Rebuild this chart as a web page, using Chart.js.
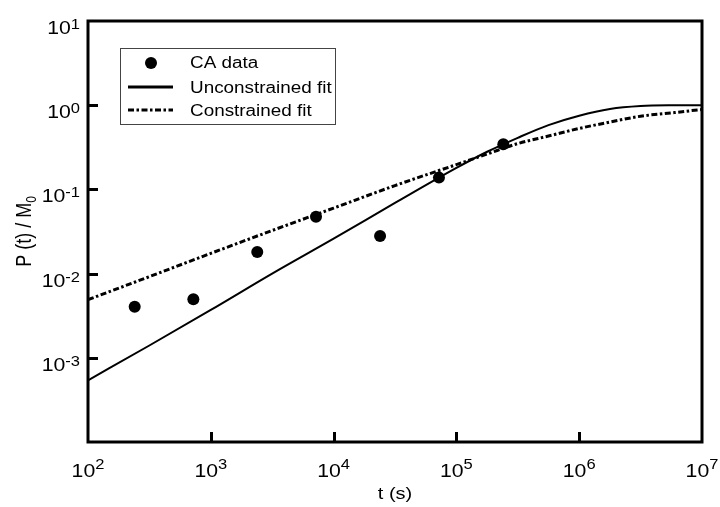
<!DOCTYPE html>
<html>
<head>
<meta charset="utf-8">
<script src="https://cdn.jsdelivr.net/npm/chart.js@4.4.1/dist/chart.umd.min.js"></script>
<style>
	html, body { margin: 0; padding: 0; background: #fff; }
	#wrap { width: 720px; height: 507px; }
</style>
</head>
<body>
<div id="wrap"><canvas id="chart" width="720" height="507"></canvas></div>
<script>
// data
const caTimes = [240, 721, 2390, 7190, 23900, 72100, 241000];
const caValues = [0.00405, 0.00495, 0.0181, 0.0474, 0.028, 0.138, 0.344];

const fitTimes = [1e2, 3.16e2, 1e3, 3.16e3, 1e4, 3.16e4, 1e5, 1.78e5, 3.16e5, 5.62e5, 1e6, 1.78e6, 3.16e6, 5.62e6, 1e7];
const unconstrainedFit = [5.4e-4, 1.4e-3, 3.7e-3, 0.0100, 0.026, 0.069, 0.18, 0.28, 0.41, 0.58, 0.75, 0.90, 0.976, 0.997, 1.0];
const constrainedFit = [4.9e-3, 9.2e-3, 0.0174, 0.0325, 0.060, 0.111, 0.197, 0.263, 0.35, 0.43, 0.53, 0.63, 0.74, 0.81, 0.89];

const xTickValues = [1e2, 1e3, 1e4, 1e5, 1e6, 1e7];
const xTickExps = ["2", "3", "4", "5", "6", "7"];
const yTickValues = [1e1, 1e0, 1e-1, 1e-2, 1e-3];
const yTickExps = ["1", "0", "-1", "-2", "-3"];

const legendLabels = ["CA data", "Unconstrained fit", "Constrained fit"];
const dashDot = [6, 2.5, 2.5, 2.5];

const FONT = '"Liberation Sans", Arial, sans-serif';
const SX = 1.18; // glyphs in the figure are a little wider than normal

const pts = (xs, ys) => xs.map((x, i) => ({ x: x, y: ys[i] }));

// draw text stretched horizontally
function stretchText(ctx, text, x, y, size, align) {
	ctx.save();
	ctx.font = `${size}px ${FONT}`;
	ctx.textBaseline = "alphabetic";
	ctx.textAlign = "left";
	let w = ctx.measureText(text).width * SX;
	let left = x;
	if (align === "right") left = x - w;
	if (align === "center") left = x - w / 2;
	ctx.translate(left, y);
	ctx.scale(SX, 1);
	ctx.fillText(text, 0, 0);
	ctx.restore();
	return w;
}

function textWidth(ctx, text, size) {
	ctx.save();
	ctx.font = `${size}px ${FONT}`;
	let w = ctx.measureText(text).width * SX;
	ctx.restore();
	return w;
}

const axesPlugin = {
	id: "axesPlugin",
	afterDatasetsDraw(chart) {
		const ctx = chart.ctx;
		const a = chart.chartArea;
		const xs = chart.scales.x;
		const ys = chart.scales.y;
		ctx.save();
		ctx.fillStyle = "#000";
		ctx.strokeStyle = "#000";

		// frame
		ctx.lineWidth = 3;
		ctx.strokeRect(a.left, a.top, a.right - a.left, a.bottom - a.top);

		// inward ticks
		ctx.beginPath();
		xTickValues.forEach((v) => {
			let px = Math.round(xs.getPixelForValue(v)) + 0.5;
			if (px <= a.left + 2 || px >= a.right - 2) return;
			ctx.moveTo(px, a.bottom);
			ctx.lineTo(px, a.bottom - 10);
		});
		yTickValues.forEach((v) => {
			let py = Math.round(ys.getPixelForValue(v)) + 0.5;
			if (py <= a.top + 2 || py >= a.bottom - 2) return;
			ctx.moveTo(a.left, py);
			ctx.lineTo(a.left + 10, py);
		});
		ctx.stroke();

		// x tick labels
		xTickValues.forEach((v, i) => {
			let px = xs.getPixelForValue(v);
			let wb = textWidth(ctx, "10", 18);
			let we = textWidth(ctx, xTickExps[i], 14);
			let left = px - (wb + we) / 2;
			stretchText(ctx, "10", left, a.bottom + 35, 18, "left");
			stretchText(ctx, xTickExps[i], left + wb, a.bottom + 27, 14, "left");
		});

		// y tick labels
		yTickValues.forEach((v, i) => {
			let py = ys.getPixelForValue(v);
			let right = a.left - 8;
			let we = stretchText(ctx, yTickExps[i], right, py + 8, 14, "right");
			stretchText(ctx, "10", right - we, py + 13, 18, "right");
		});

		// axis titles
		stretchText(ctx, "t (s)", (a.left + a.right) / 2, a.bottom + 57, 17, "center");

		ctx.save();
		ctx.font = `18px ${FONT}`;
		let main = "P (t) / M";
		let wm = ctx.measureText(main).width;
		ctx.font = `12px ${FONT}`;
		let ws = ctx.measureText("0").width;
		let cy = (a.top + a.bottom) / 2;
		ctx.translate(31, cy);
		ctx.scale(SX, 1);
		ctx.rotate(-Math.PI / 2);
		ctx.textAlign = "left";
		ctx.textBaseline = "alphabetic";
		ctx.font = `18px ${FONT}`;
		ctx.fillText(main, -(wm + ws) / 2, 0);
		ctx.font = `12px ${FONT}`;
		ctx.fillText("0", -(wm + ws) / 2 + wm, 4);
		ctx.restore();

		ctx.restore();
	},
	afterDraw(chart) {
		// boxed legend in the upper left of the plot
		const ctx = chart.ctx;
		ctx.save();
		ctx.strokeStyle = "#444";
		ctx.lineWidth = 1;
		ctx.strokeRect(120.5, 48.5, 215, 76);
		ctx.fillStyle = "#000";
		ctx.strokeStyle = "#000";

		ctx.beginPath();
		ctx.arc(151, 63, 6, 0, Math.PI * 2);
		ctx.fill();

		ctx.lineWidth = 3;
		ctx.beginPath();
		ctx.moveTo(128, 87);
		ctx.lineTo(173, 87);
		ctx.stroke();

		ctx.setLineDash(dashDot);
		ctx.beginPath();
		ctx.moveTo(128, 110);
		ctx.lineTo(173, 110);
		ctx.stroke();
		ctx.setLineDash([]);

		stretchText(ctx, legendLabels[0], 190, 68, 16, "left");
		stretchText(ctx, legendLabels[1], 190, 93, 16, "left");
		stretchText(ctx, legendLabels[2], 190, 116, 16, "left");
		ctx.restore();
	},
};

new Chart(document.getElementById("chart"), {
	type: "scatter",
	data: {
		datasets: [
			{
				label: legendLabels[0],
				data: pts(caTimes, caValues),
				showLine: false,
				pointRadius: 6,
				pointBackgroundColor: "#000",
				pointBorderWidth: 0,
				order: 0,
			},
			{
				label: legendLabels[1],
				data: pts(fitTimes, unconstrainedFit),
				showLine: true,
				borderColor: "#000",
				borderWidth: 2,
				pointRadius: 0,
				cubicInterpolationMode: "monotone",
				order: 1,
			},
			{
				label: legendLabels[2],
				data: pts(fitTimes, constrainedFit),
				showLine: true,
				borderColor: "#000",
				borderWidth: 3,
				borderDash: dashDot,
				pointRadius: 0,
				cubicInterpolationMode: "monotone",
				order: 2,
			},
		],
	},
	options: {
		responsive: false,
		animation: false,
		layout: { padding: { left: 88, right: 18, top: 21, bottom: 65 } },
		plugins: { legend: { display: false }, tooltip: { enabled: false } },
		scales: {
			x: { type: "logarithmic", min: 1e2, max: 1e7, display: false },
			y: { type: "logarithmic", min: 1e-4, max: 1e1, display: false },
		},
	},
	plugins: [axesPlugin],
});
</script>
</body>
</html>
